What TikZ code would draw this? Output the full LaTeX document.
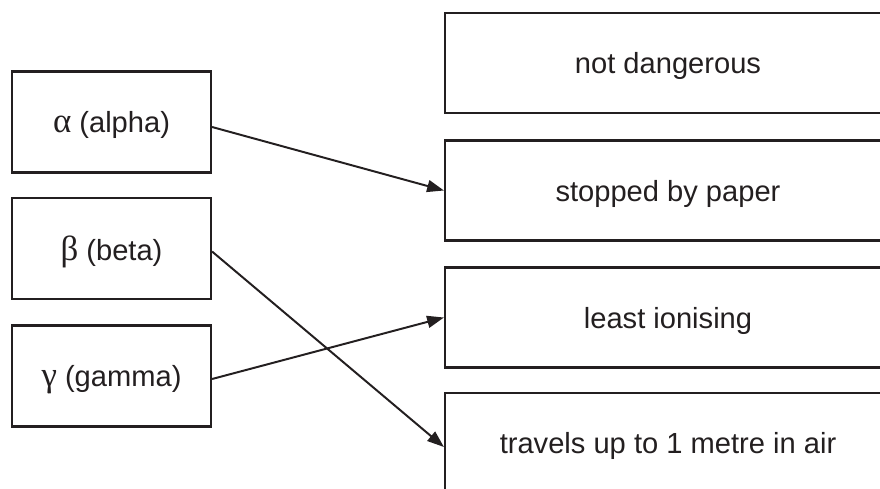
\documentclass[tikz,border=0pt]{standalone}
\usepackage{fontspec}
\setmainfont{Liberation Sans}
\newfontfamily\grk[Scale=1.2]{Liberation Serif}
\usetikzlibrary{arrows.meta,calc}
\definecolor{ink}{HTML}{231F20}
\begin{document}
\begin{tikzpicture}[x=0.025cm,y=-0.025cm,
  box/.style={draw=ink,line width=1.5pt,text=ink,inner sep=0pt,text depth=0pt,
    font=\fontsize{20.7pt}{24pt}\selectfont},
  lbox/.style={box,minimum width=199*0.025cm,minimum height=101*0.025cm},
  rbox/.style={box,minimum width=446*0.025cm,minimum height=100*0.025cm},
  conn/.style={draw=ink,line width=1.4pt,-{Triangle[length=0.42cm,width=0.3cm]}}]
\useasboundingbox (0,0) rectangle (880,488);
\clip (0,0) rectangle (880,488);
\node[lbox] (a) at (111.5,122) {{\grk α} (alpha)};
\node[lbox] (b) at (111.5,248.5) {{\grk β} (beta)};
\node[lbox] (g) at (111.5,376) {{\grk γ} (gamma)};
\node[rbox] (r1) at (668,63) {not dangerous};
\node[rbox] (r2) at (668,190.5) {stopped by paper};
\node[rbox] (r3) at (668,317.5) {least ionising};
\node[rbox] (r4) at (668,443) {travels up to 1 metre in air};
\draw[conn] ($(a.east)+(0,5)$) -- (r2.west);
\draw[conn] ($(b.east)+(0,3)$) -- ($(r4.west)+(0,4)$);
\draw[conn] ($(g.east)+(0,3)$) -- (r3.west);
\end{tikzpicture}
\end{document}
